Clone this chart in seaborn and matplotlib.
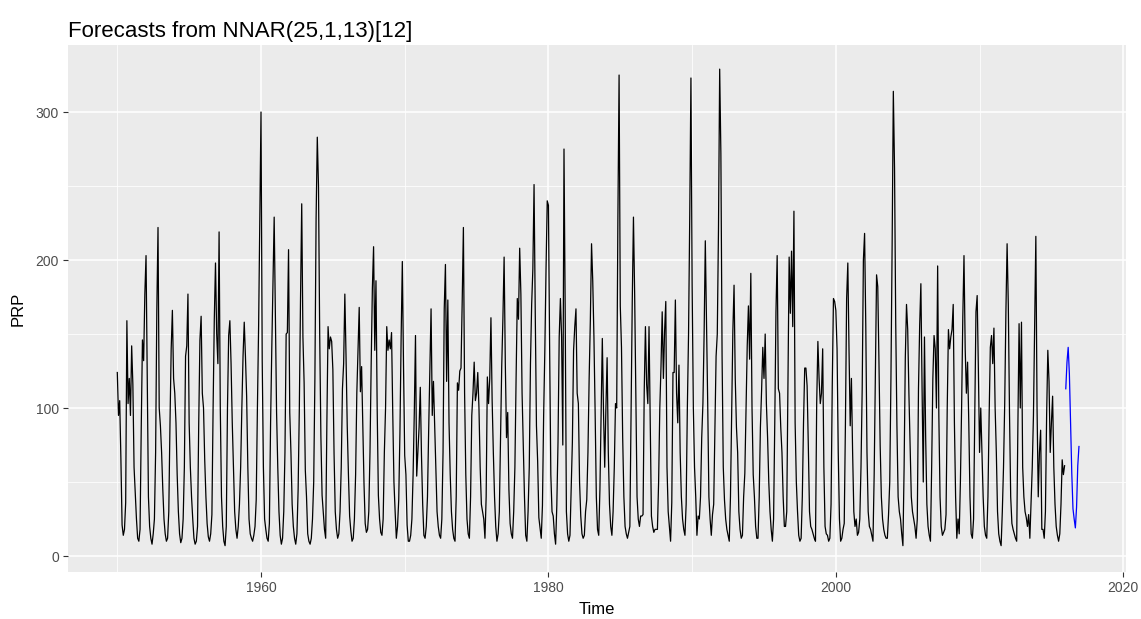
import numpy as np
import pandas as pd
import matplotlib
matplotlib.use("Agg")
import matplotlib.pyplot as plt
import seaborn as sns
from matplotlib.ticker import FixedLocator

# Monthly PRP values (Jan..Dec)
prp_1950s = [
    124, 95, 105, 66, 21, 14, 18, 36, 159, 103, 120, 95,
    142, 116, 60, 42, 25, 12, 10, 18, 87, 146, 132, 177,
    203, 125, 40, 20, 12, 8, 15, 25, 70, 166, 222, 100,
    88, 70, 45, 25, 15, 10, 12, 30, 90, 140, 166, 120,
    110, 90, 55, 30, 15, 9, 12, 25, 60, 135, 142, 177,
    90, 60, 40, 25, 12, 8, 10, 20, 90, 146, 162, 110,
    100, 65, 40, 22, 13, 10, 15, 28, 100, 160, 198, 150,
    130, 219, 100, 40, 20, 10, 7, 20, 100, 149, 159, 130,
    90, 60, 30, 18, 12, 20, 35, 60, 100, 135, 158, 135,
    108, 60, 25, 15, 12, 10, 14, 20, 38, 100, 155, 226,
]
prp_1960s = [
    300, 132, 60, 25, 18, 12, 10, 22, 90, 140, 184, 229,
    165, 97, 60, 30, 14, 8, 12, 30, 70, 150, 151, 207,
    97, 70, 35, 20, 12, 8, 15, 45, 100, 174, 238, 148,
    117, 58, 40, 15, 10, 8, 12, 25, 50, 120, 228, 283,
    250, 150, 81, 41, 29, 18, 12, 90, 155, 140, 148, 145,
    126, 69, 30, 18, 12, 15, 30, 60, 113, 130, 177, 135,
    88, 55, 27, 17, 10, 12, 25, 55, 110, 139, 168, 111,
    128, 88, 49, 22, 16, 18, 30, 70, 130, 181, 209, 139,
    186, 100, 41, 25, 16, 14, 25, 70, 100, 155, 139, 146,
    140, 151, 97, 50, 30, 12, 20, 38, 83, 147, 199, 128,
]
prp_1970s = [
    68, 55, 21, 10, 10, 14, 25, 55, 97, 149, 54, 70,
    87, 114, 68, 35, 14, 12, 20, 40, 85, 125, 167, 95,
    118, 88, 60, 30, 20, 14, 12, 25, 70, 167, 197, 118,
    173, 90, 55, 30, 18, 12, 10, 40, 117, 112, 125, 127,
    172, 222, 110, 55, 25, 15, 12, 40, 95, 110, 131, 105,
    110, 124, 100, 60, 35, 30, 25, 12, 40, 121, 103, 120,
    161, 105, 70, 40, 20, 10, 15, 30, 80, 128, 161, 202,
    130, 80, 97, 45, 22, 15, 12, 30, 60, 120, 174, 160,
    208, 177, 110, 75, 40, 14, 10, 30, 60, 130, 170, 194,
    251, 164, 88, 64, 26, 19, 12, 34, 95, 139, 194, 240,
]
prp_1980s = [
    237, 141, 55, 30, 27, 15, 8, 34, 77, 148, 174, 148,
    75, 275, 165, 30, 15, 10, 14, 47, 77, 139, 155, 167,
    110, 103, 50, 27, 15, 12, 14, 30, 38, 70, 120, 159,
    211, 186, 148, 97, 40, 18, 14, 45, 97, 147, 97, 60,
    100, 134, 70, 35, 20, 14, 30, 60, 103, 100, 228, 325,
    169, 141, 80, 40, 20, 15, 12, 16, 20, 95, 172, 229,
    177, 110, 40, 25, 20, 27, 27, 28, 112, 155, 116, 103,
    155, 88, 27, 20, 16, 18, 18, 18, 50, 100, 128, 165,
    120, 152, 172, 60, 30, 20, 10, 36, 124, 124, 173, 110,
    90, 129, 70, 40, 25, 18, 14, 35, 100, 150, 230, 323,
]
prp_1990s = [
    183, 100, 60, 40, 14, 27, 25, 40, 80, 103, 150, 213,
    158, 103, 40, 25, 14, 28, 35, 87, 135, 150, 221, 329,
    272, 135, 60, 38, 25, 18, 14, 10, 40, 97, 152, 183,
    120, 87, 70, 30, 18, 12, 14, 40, 56, 100, 142, 169,
    133, 191, 100, 55, 40, 20, 12, 12, 40, 87, 112, 141,
    120, 150, 103, 80, 50, 30, 18, 10, 25, 90, 165, 203,
    113, 110, 87, 70, 40, 20, 20, 30, 120, 202, 164, 206,
    155, 233, 90, 50, 30, 14, 10, 12, 40, 90, 127, 127,
    115, 75, 30, 20, 18, 15, 12, 10, 103, 145, 120, 103,
    110, 140, 60, 20, 15, 14, 10, 12, 35, 115, 174, 172,
]
prp_2000s = [
    166, 140, 70, 25, 10, 12, 18, 22, 90, 174, 198, 139,
    88, 120, 70, 30, 20, 25, 14, 16, 25, 60, 113, 200,
    218, 155, 70, 30, 20, 18, 14, 10, 55, 120, 190, 182,
    131, 75, 40, 25, 18, 14, 12, 12, 28, 50, 120, 210,
    314, 262, 157, 88, 40, 30, 25, 15, 7, 60, 134, 170,
    153, 110, 75, 40, 30, 25, 20, 12, 25, 113, 156, 184,
    113, 50, 148, 80, 35, 20, 14, 10, 60, 120, 149, 140,
    100, 196, 95, 40, 20, 14, 16, 18, 28, 100, 153, 140,
    148, 153, 170, 90, 40, 12, 25, 15, 50, 100, 161, 203,
    140, 110, 131, 90, 40, 15, 12, 25, 97, 165, 176, 127,
]
prp_2010s = [
    70, 100, 70, 40, 20, 14, 12, 40, 95, 141, 149, 130,
    154, 100, 70, 30, 15, 10, 7, 30, 60, 103, 165, 211,
    170, 97, 40, 22, 18, 15, 12, 10, 88, 157, 100, 158,
    60, 40, 30, 26, 20, 28, 12, 35, 60, 95, 158, 216,
    100, 40, 70, 85, 18, 18, 12, 30, 95, 139, 118, 70,
    90, 108, 60, 35, 20, 14, 10, 15, 35, 65, 55, 61,
]
forecast_2016 = [113, 131, 141, 123, 90, 56, 32, 25, 19, 33, 61, 74]

start_year = 1950
x_major = [1960, 1980, 2000, 2020]
x_minor = [1950, 1970, 1990, 2010]
y_major = [0, 100, 200, 300]
y_minor = [50, 150, 250]

title = "Forecasts from NNAR(25,1,13)[12]"
xlabel = "Time"
ylabel = "PRP"

# ---- build tables ----
hist = prp_1950s + prp_1960s + prp_1970s + prp_1980s + prp_1990s + prp_2000s + prp_2010s
n = len(hist)
df_hist = pd.DataFrame({"time": start_year + np.arange(n) / 12.0, "PRP": hist})
df_fc = pd.DataFrame({"time": start_year + (n + np.arange(len(forecast_2016))) / 12.0,
                      "PRP": forecast_2016})

# ---- figure ----
W, H = 1141, 619
fig = plt.figure(figsize=(W / 100, H / 100), dpi=100)
plt.rcParams["font.family"] = ["Liberation Sans", "DejaVu Sans"]

left, right, top, bottom = 68, 1126, 45, 572
ax = fig.add_axes([left / W, 1 - bottom / H, (right - left) / W, (bottom - top) / H])
ax.set_facecolor("#EBEBEB")

sns.lineplot(data=df_hist, x="time", y="PRP", color="black", linewidth=0.9,
             estimator=None, ax=ax)
sns.lineplot(data=df_fc, x="time", y="PRP", color="#0000FF", linewidth=0.9,
             estimator=None, ax=ax)

ax.set_xlim(1946.57, 2020.19)
ax.set_ylim(-10.8, 345.3)

ax.xaxis.set_major_locator(FixedLocator(x_major))
ax.xaxis.set_minor_locator(FixedLocator(x_minor))
ax.yaxis.set_major_locator(FixedLocator(y_major))
ax.yaxis.set_minor_locator(FixedLocator(y_minor))
ax.set_xticklabels([str(v) for v in x_major])
ax.set_yticklabels([str(v) for v in y_major])

ax.grid(which="major", color="white", linewidth=1.1)
ax.grid(which="minor", color="white", linewidth=0.55)
ax.set_axisbelow(True)
for s in ax.spines.values():
    s.set_visible(False)

ax.tick_params(which="major", length=3.5, width=0.8, color="#333333",
               labelcolor="#4D4D4D", labelsize=10, pad=3)
ax.tick_params(which="minor", length=0)

ax.set_xlabel("")
ax.set_ylabel("")
fig.text((left + right) / 2 / W, 1 - 609 / H, xlabel, ha="center", va="center",
         fontsize=12, color="black")
fig.text(18 / W, 1 - (top + bottom) / 2 / H, ylabel, ha="center", va="center",
         rotation=90, fontsize=12, color="black")
fig.text(left / W, 1 - 37 / H, title, ha="left", va="baseline", fontsize=16,
         color="black")

fig.savefig("out.png", dpi=100)
